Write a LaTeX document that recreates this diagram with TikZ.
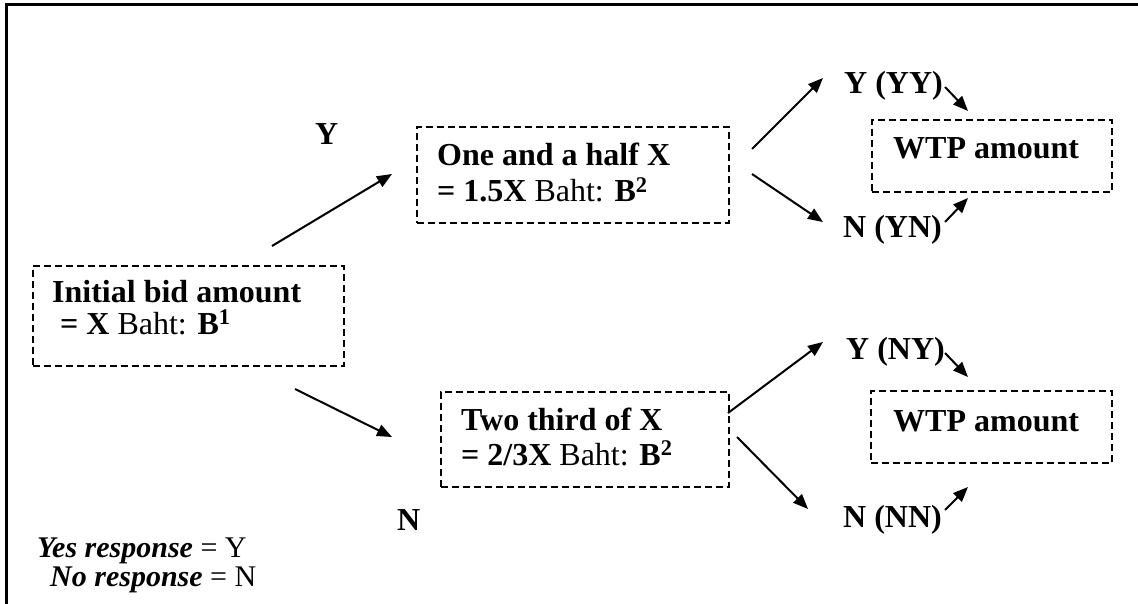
\documentclass[tikz,border=0pt]{standalone}
\usepackage{fontspec}
\setmainfont{Liberation Serif}
\usetikzlibrary{arrows.meta}

\tikzset{
  lbl/.style={inner sep=0pt, anchor=base west, font=\fontsize{32}{32}\selectfont},
  legend/.style={lbl, font=\fontsize{30}{30}\selectfont},
  dbox/.style={draw, dash pattern=on 7pt off 4pt, line width=1.8pt,
               inner sep=0pt, anchor=north west},
  arr/.style={line width=2pt, -{Triangle[length=15pt,width=12pt]}},
  frame/.style={line width=3pt}
}

\begin{document}
\begin{tikzpicture}[x=1pt,y=-1pt]
\useasboundingbox (0,0) rectangle (1138,604);

% outer frame (top and left sides)
\draw[frame] (6.5,604) -- (6.5,5) -- (1138,5);

% dashed boxes
\node[dbox, minimum width=311pt, minimum height=100pt] (init)  at (32,265)  {};
\node[dbox, minimum width=312pt, minimum height=96pt]  (half)  at (416,126) {};
\node[dbox, minimum width=288pt, minimum height=95pt]  (third) at (440,391) {};
\node[dbox, minimum width=240pt, minimum height=72pt]  (wtpA)  at (871,119) {};
\node[dbox, minimum width=241pt, minimum height=72pt]  (wtpB)  at (870,390) {};

% box texts
\node[lbl] (initA) at (52,302) {\textbf{Initial bid amount}};
\node[lbl] (initB) at (60,334) {\textbf{= X} Baht: \textbf{B}\textsuperscript{\textbf{1}}};
\node[lbl] (halfA) at (437,166) {\textbf{One and a half X}};
\node[lbl] (halfB) at (437,202) {\textbf{= 1.5X} Baht: \textbf{B}\textsuperscript{\textbf{2}}};
\node[lbl] (thirdA) at (461,430) {\textbf{Two third of X}};
\node[lbl] (thirdB) at (461,465) {\textbf{= 2/3X} Baht: \textbf{B}\textsuperscript{\textbf{2}}};
\node[lbl] (wtpAt) at (893,159) {\textbf{WTP amount}};
\node[lbl] (wtpBt) at (893,431) {\textbf{WTP amount}};

% response labels
\node[lbl] (yy) at (844,94)  {\textbf{Y (YY)}};
\node[lbl] (yn) at (843,238) {\textbf{N (YN)}};
\node[lbl] (ny) at (846,359) {\textbf{Y (NY)}};
\node[lbl] (nn) at (843,527) {\textbf{N (NN)}};
\node[lbl] (ylab) at (315,145) {\textbf{Y}};
\node[lbl] (nlab) at (397,530) {\textbf{N}};

% legend
\node[legend] (legY) at (37,557) {\textbf{\textit{Yes response}} = Y};
\node[legend] (legN) at (50,586) {\textbf{\textit{No response}} = N};

% connector end points
\coordinate (a1) at (272,246); \coordinate (a2) at (392,174);
\coordinate (b1) at (295,389); \coordinate (b2) at (392,437);
\coordinate (c1) at (752,149); \coordinate (c2) at (823,78);
\coordinate (d1) at (752,174); \coordinate (d2) at (823,222);
\coordinate (e1) at (945,87);  \coordinate (e2) at (968,111);
\coordinate (f1) at (945,222); \coordinate (f2) at (968,198);
\coordinate (g1) at (728,413); \coordinate (g2) at (823,342);
\coordinate (h1) at (737,437); \coordinate (h2) at (808,509);
\coordinate (i1) at (945,353); \coordinate (i2) at (968,377);
\coordinate (j1) at (945,510); \coordinate (j2) at (968,487);

% connectors
\draw[arr] (a1) -- (a2);
\draw[arr] (b1) -- (b2);
\draw[arr] (c1) -- (c2);
\draw[arr] (d1) -- (d2);
\draw[arr] (e1) -- (e2);
\draw[arr] (f1) -- (f2);
\draw[arr] (g1) -- (g2);
\draw[arr] (h1) -- (h2);
\draw[arr] (i1) -- (i2);
\draw[arr] (j1) -- (j2);
\end{tikzpicture}
\end{document}
